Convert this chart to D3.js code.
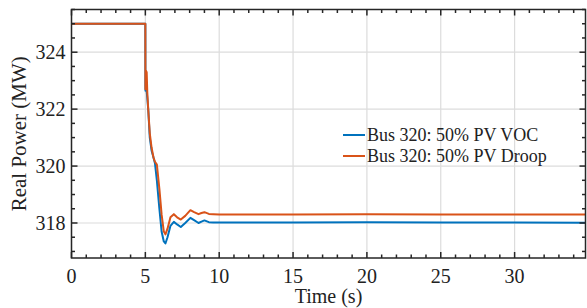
<!DOCTYPE html>
<html><head><meta charset="utf-8">
<script src="https://cdn.jsdelivr.net/npm/d3@7"></script>
<style>body{margin:0;background:#fff}svg{display:block}</style>
</head><body><svg id="c" width="587" height="308"></svg>
<script>
const time = [0,5.0,5.005,5.01,5.04,5.09,5.13,5.2,5.3,5.42,5.55,5.65,5.78,5.95,6.1,6.25,6.36,6.5,6.7,6.93,7.15,7.4,7.7,8.05,8.3,8.6,8.8,9.0,9.3,9.6,10,15,20,25,30,34.8];
const voc   = [325,325,322.8,322.65,322.7,322.62,322.4,321.95,321.0,320.55,320.3,320.1,319.5,318.5,317.7,317.35,317.28,317.5,317.9,318.04,317.95,317.86,318.0,318.18,318.1,318.0,318.05,318.09,318.03,318.02,318.02,318.02,318.03,318.02,318.02,318.01];
const droop = [325,325,322.7,322.9,323.35,323.3,322.6,321.95,321.15,320.65,320.3,320.15,320.05,319.2,318.3,317.7,317.6,317.8,318.2,318.31,318.2,318.12,318.25,318.45,318.38,318.31,318.35,318.38,318.32,318.31,318.3,318.3,318.31,318.3,318.3,318.3];
const xTicks = [0,5,10,15,20,25,30];
const yTicks = [318,320,322,324];
const seriesNames = ["Bus 320: 50% PV VOC","Bus 320: 50% PV Droop"];
const colors = ["#0072BD","#D95319"];

// pick an installed serif font
const cv = document.createElement("canvas").getContext("2d");
function w(f){cv.font="40px "+f;return cv.measureText("Real Power (MW) 0123 Time").width;}
const base1=w("monospace"), base2=w("sans-serif");
const cands=["Liberation Serif","DejaVu Serif","Noto Serif","Times New Roman","Tinos","FreeSerif","Nimbus Roman"];
let FONT="serif";
for(const c of cands){const a=w(`"${c}", monospace`), b=w(`"${c}", sans-serif`); if(a===b && a!==base1){FONT=`"${c}", serif`;break;}}

const svg = d3.select("#c").attr("font-family",FONT).attr("fill","#222");
const L=71.5,R=585.5,T=9.5,B=258;
const x = d3.scaleLinear().domain([0,34.8]).range([L,R]);
const y = d3.scaleLinear().domain([316.77,325.5]).range([B,T]);

// grid
const g = svg.append("g");
g.selectAll(".vg").data(xTicks).join("line").attr("x1",d=>x(d)).attr("x2",d=>x(d)).attr("y1",T).attr("y2",B).attr("stroke","#dcdcdc").attr("stroke-width",1.2);
g.selectAll(".hg").data(yTicks).join("line").attr("y1",d=>y(d)).attr("y2",d=>y(d)).attr("x1",L).attr("x2",R).attr("stroke","#dcdcdc").attr("stroke-width",1.2);

// lines
const line = d3.line().x((d,i)=>x(time[i])).y(d=>y(d));
[voc,droop].forEach((s,k)=>{
  svg.append("path").datum(s).attr("d",line).attr("fill","none").attr("stroke",colors[k]).attr("stroke-width",2).attr("stroke-linejoin","round");
});

// axes box
const ax = svg.append("g").attr("stroke","#262626").attr("stroke-width",1.5);
ax.append("rect").attr("x",L).attr("y",T).attr("width",R-L).attr("height",B-T).attr("fill","none");
const xMinor = d3.range(0,35,1), yMinor = d3.range(317,325.6,0.5);
xMinor.forEach(t=>{
  const len = (t%5===0)?6:3.5;
  ax.append("line").attr("x1",x(t)).attr("x2",x(t)).attr("y1",B).attr("y2",B-len);
  ax.append("line").attr("x1",x(t)).attr("x2",x(t)).attr("y1",T).attr("y2",T+len);
});
yMinor.forEach(v=>{
  const len = (Math.abs(v%2)<1e-6)?6:3.5;
  ax.append("line").attr("y1",y(v)).attr("y2",y(v)).attr("x1",L).attr("x2",L+len);
  ax.append("line").attr("y1",y(v)).attr("y2",y(v)).attr("x1",R).attr("x2",R-len);
});

// tick labels
svg.selectAll(".xl").data(xTicks).join("text").attr("x",d=>x(d)).attr("y",283).attr("text-anchor","middle").attr("font-size",20).text(d=>d);
svg.selectAll(".yl").data(yTicks).join("text").attr("x",L-6).attr("y",d=>y(d)+7).attr("text-anchor","end").attr("font-size",20).text(d=>d);

// axis labels
svg.append("text").attr("x",(L+R)/2).attr("y",303).attr("text-anchor","middle").attr("font-size",20).text("Time (s)");
svg.append("text").attr("transform",`translate(26,${(T+B)/2}) rotate(-90)`).attr("text-anchor","middle").attr("font-size",21).text("Real Power (MW)");

// legend
seriesNames.forEach((n,k)=>{
  const yy = 135 + k*21;
  svg.append("line").attr("x1",343).attr("x2",365).attr("y1",yy).attr("y2",yy).attr("stroke",colors[k]).attr("stroke-width",2);
  svg.append("text").attr("x",367).attr("y",yy+6).attr("font-size",18).text(n);
});
</script></body></html>
